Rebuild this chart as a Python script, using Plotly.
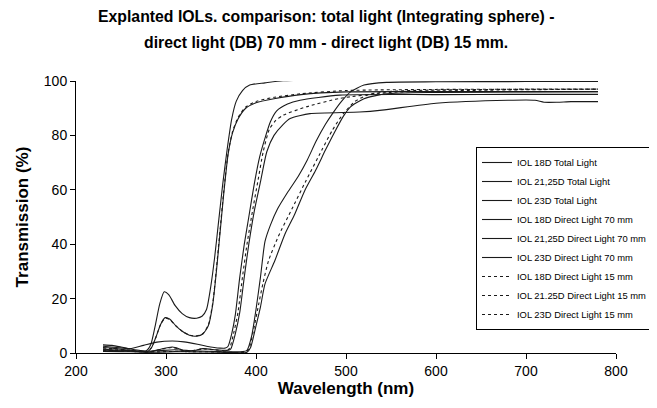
import plotly.graph_objects as go

# ---------------- data ----------------
series_names = [
    "IOL 18D Total Light",
    "IOL 21,25D Total Light",
    "IOL 23D Total Light",
    "IOL 18D Direct Light 70 mm",
    "IOL 21,25D Direct Light 70 mm",
    "IOL 23D Direct Light 70 mm",
    "IOL 18D Direct Light 15 mm",
    "IOL 21.25D Direct Light 15 mm",
    "IOL 23D Direct Light 15 mm",
]

# lens with UV bump (rises ~360 nm) - total light
wl_18_total = [230, 240, 250, 260, 270, 278, 283, 288, 293, 298, 303, 310, 318, 326, 334, 340, 345, 350, 354, 358, 363, 368, 373, 378, 385, 393, 410, 430, 500, 600, 700, 780]
tr_18_total = [3.0, 2.8, 2.2, 1.5, 1.0, 0.8, 3.0, 10, 18, 22.5, 21.5, 17.5, 14.5, 13, 12.8, 13.5, 16, 25, 35, 47, 62, 75, 86, 92.5, 96.5, 98.5, 99.3, 100.1, 100.3, 100.3, 100.3, 100.3]

# lens rising ~390 nm - total light
wl_2125_total = [230, 245, 260, 275, 290, 307, 320, 335, 345, 360, 366, 369, 373, 377, 382, 387, 392, 398, 404, 410, 416, 423, 435, 449, 493, 600, 700, 780]
tr_2125_total = [2.5, 2.0, 1.6, 2.8, 4.0, 4.4, 4.1, 3.2, 2.5, 1.8, 1.8, 2.5, 7, 14, 28, 40, 50, 62, 72, 79, 85, 89, 91.5, 92.9, 94.8, 95.0, 95.1, 95.1]

# lens rising slowly 400-500 nm - total light
wl_23_total = [230, 250, 270, 290, 310, 330, 360, 385, 390, 395, 400, 405, 410, 416, 424, 435, 447, 457, 467, 477, 485, 495, 505, 520, 545, 600, 700, 780]
tr_23_total = [1.4, 1.0, 0.6, 0.8, 1.2, 0.8, 0.5, 0.5, 1.0, 6, 16, 28, 41, 47, 53, 59, 65, 71, 78, 84, 88, 92.5, 96, 98.5, 99.5, 99.7, 99.8, 99.8]

# direct light 70 mm
wl_18_70 = [230, 240, 250, 260, 270, 279, 284, 289, 294, 299, 304, 311, 318, 326, 334, 341, 347, 352, 356, 360, 364, 369, 374, 380, 388, 400, 420, 450, 500, 600, 700, 780]
tr_18_70 = [2.0, 1.8, 1.4, 1.0, 0.7, 0.4, 2.0, 6, 10.5, 13, 12.5, 10, 8, 6.5, 6.2, 7, 10, 18, 30, 44, 58, 73, 81, 86, 89.8, 92, 93.5, 95, 96, 96.1, 96.1, 96.1]

wl_2125_70 = [230, 250, 270, 281, 295, 307, 315, 322, 332, 341, 355, 363, 369, 372, 377, 382, 387, 392, 398, 405, 412, 420, 430, 438, 460, 515, 540, 600, 680, 710, 720, 735, 750, 780]
tr_2125_70 = [1.0, 0.8, 0.5, 0.3, 1.5, 2.2, 1.5, 0.5, 1.0, 1.6, 1.2, 1.0, 1.0, 1.5, 7, 15, 28, 40, 52, 63, 74, 80, 84, 86.2, 88, 88.6, 89.3, 91.8, 92.9, 92.9, 92.2, 92.2, 92.4, 92.4]

wl_23_70 = [230, 250, 270, 290, 310, 330, 360, 390, 394, 400, 405, 410, 421, 432, 443, 454, 466, 477, 487, 497, 505, 520, 545, 600, 700, 780]
tr_23_70 = [0.6, 0.5, 0.4, 0.3, 0.5, 0.4, 0.3, 0.3, 2, 10, 17, 25.4, 34, 43.6, 51, 59.6, 67, 74.5, 81, 87, 90.5, 93.5, 95.3, 95.8, 96.0, 96.1]

# direct light 15 mm
wl_18_15 = [230, 240, 250, 260, 270, 279, 284, 289, 294, 299, 304, 311, 318, 326, 334, 341, 347, 352, 356, 360, 364, 369, 374, 380, 388, 400, 420, 450, 500, 600, 700, 780]
tr_18_15 = [1.8, 1.6, 1.3, 1.0, 0.7, 0.4, 2.0, 6, 10.5, 12.8, 12.3, 10, 8, 6.6, 6.3, 7.2, 10.3, 18.5, 31, 45, 59, 73.5, 81.5, 86.5, 90.3, 92.5, 94, 95.3, 96.5, 96.9, 97.0, 97.0]

wl_2125_15 = [230, 250, 270, 281, 295, 307, 315, 322, 332, 341, 355, 363, 368, 371, 375, 380, 385, 390, 396, 402, 408, 415, 422, 430, 456, 493, 550, 650, 780]
tr_2125_15 = [1.2, 0.9, 0.6, 0.4, 1.4, 2.0, 1.4, 0.6, 1.0, 1.5, 1.1, 0.9, 0.9, 2, 7, 15, 28, 40, 52, 63, 74, 82.4, 85.5, 87.4, 90.5, 93.6, 95.8, 96.6, 97.0]

wl_23_15 = [230, 250, 270, 290, 310, 330, 360, 388, 392, 397, 403, 408, 414, 425, 440, 455, 473, 485, 497, 510, 525, 550, 620, 780]
tr_23_15 = [0.8, 0.6, 0.5, 0.4, 0.6, 0.5, 0.4, 0.3, 1.5, 8, 18, 26, 34, 43, 53, 63, 74.5, 82, 88, 92.5, 95, 96.2, 96.8, 97.0]

x_ticks = [200, 300, 400, 500, 600, 700, 800]
y_ticks = [0, 20, 40, 60, 80, 100]

title_lines = [
    "Explanted IOLs. comparison: total light (Integrating sphere) -",
    "direct light (DB) 70 mm - direct light (DB) 15 mm.",
]

series = [
    (wl_18_total, tr_18_total, "solid"),
    (wl_2125_total, tr_2125_total, "solid"),
    (wl_23_total, tr_23_total, "solid"),
    (wl_18_70, tr_18_70, "solid"),
    (wl_2125_70, tr_2125_70, "solid"),
    (wl_23_70, tr_23_70, "solid"),
    (wl_18_15, tr_18_15, "dot"),
    (wl_2125_15, tr_2125_15, "dot"),
    (wl_23_15, tr_23_15, "dot"),
]

FONT = "Liberation Sans, Arial, sans-serif"
OFF = 8                       # page body margin of the browser
W, H = 657 - OFF, 408 - OFF   # figure size so that it fills the window
# plot area in window pixels: x 76..616, y 80.6..353
ML = 76 - OFF
MT = 81 - OFF
MR = W - (616 - OFF)
MB = H - (353 - OFF)
PW = W - ML - MR
PH = H - MT - MB


def paper_y(win_y):
    return (353 - win_y) / PH


def paper_x(win_x):
    return (win_x - 76) / PW


fig = go.Figure()
for name, (wl, tr, dash) in zip(series_names, series):
    fig.add_trace(go.Scatter(
        x=wl, y=tr, name=name, mode="lines",
        line=dict(color="#1a1a1a", width=1.1, dash=dash, shape="spline", smoothing=0.6),
    ))

for i, line in enumerate(title_lines):
    fig.add_annotation(
        text="<b>" + line + "</b>", showarrow=False,
        xref="paper", x=paper_x(326), xanchor="center",
        yref="paper", y=paper_y(17 + 25 * i), yanchor="middle",
        font=dict(size=15.8, family=FONT, color="black"),
    )

fig.update_layout(
    width=W, height=H,
    margin=dict(l=ML, r=MR, t=MT, b=MB, autoexpand=False),
    paper_bgcolor="white", plot_bgcolor="white",
    font=dict(family=FONT, color="black", size=14),
    showlegend=True,
    legend=dict(
        x=paper_x(476), y=paper_y(147), xanchor="left", yanchor="top",
        bordercolor="black", borderwidth=1, bgcolor="white",
        font=dict(size=9.4, family=FONT, color="black"),
        tracegroupgap=0, itemwidth=30,
    ),
)
fig.update_xaxes(
    range=[200, 800], tickvals=x_ticks, showgrid=False, zeroline=False,
    showline=True, linecolor="black", linewidth=1,
    ticks="outside", ticklen=5, tickcolor="black", automargin=False,
    tickfont=dict(size=14, family=FONT, color="black"),
    title=dict(text="<b>Wavelength (nm)</b>", font=dict(size=17, family=FONT, color="black"), standoff=4),
)
fig.update_yaxes(
    range=[0, 100], tickvals=y_ticks, showgrid=False, zeroline=False,
    showline=True, linecolor="black", linewidth=1,
    ticks="outside", ticklen=5, tickcolor="black", automargin=False,
    tickfont=dict(size=14, family=FONT, color="black"),
    title=dict(text="<b>Transmission (%)</b>", font=dict(size=17, family=FONT, color="black"), standoff=10),
)

fig.write_html("out.html")
